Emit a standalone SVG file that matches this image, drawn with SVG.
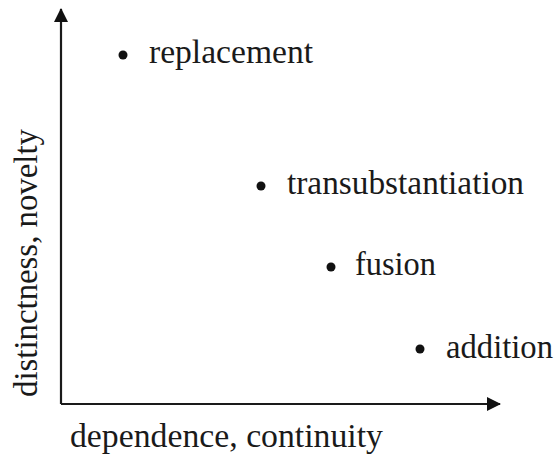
<svg xmlns="http://www.w3.org/2000/svg" width="559" height="454" viewBox="0 0 559 454">
<style>
text{font-family:"Liberation Serif","Times New Roman",serif;font-size:33px;fill:#1a1a1a}
.axis{stroke:#1a1a1a;stroke-width:2.2;fill:none}
.dot{fill:#111}
</style>
<defs>
<marker id="ah" viewBox="0 0 14 14" refX="13" refY="7" markerWidth="14" markerHeight="14" markerUnits="userSpaceOnUse" orient="auto">
<path d="M0,0 L14,7 L0,14 Z" fill="#111"/>
</marker>
</defs>
<rect width="559" height="454" fill="#fff"/>
<g id="connectors">
<path class="axis" d="M61,404 L61,9" marker-end="url(#ah)"/>
<path class="axis" d="M61,404 L500,404" marker-end="url(#ah)"/>
</g>
<g id="replacement">
<circle class="dot" cx="123" cy="55" r="4.5"/>
<text x="149" y="63" textLength="164" lengthAdjust="spacingAndGlyphs">replacement</text>
</g>
<g id="transubstantiation">
<circle class="dot" cx="261" cy="186" r="4.5"/>
<text x="287" y="194" textLength="237" lengthAdjust="spacingAndGlyphs">transubstantiation</text>
</g>
<g id="fusion">
<circle class="dot" cx="331" cy="267" r="4.5"/>
<text x="355" y="275" textLength="81" lengthAdjust="spacingAndGlyphs">fusion</text>
</g>
<g id="addition">
<circle class="dot" cx="420" cy="349" r="4.5"/>
<text x="446" y="358" textLength="107" lengthAdjust="spacingAndGlyphs">addition</text>
</g>
<g id="y-label">
<text transform="translate(37,397) rotate(-90)" textLength="268" lengthAdjust="spacingAndGlyphs">distinctness, novelty</text>
</g>
<g id="x-label">
<text x="70" y="447" textLength="313" lengthAdjust="spacingAndGlyphs">dependence, continuity</text>
</g>
</svg>
